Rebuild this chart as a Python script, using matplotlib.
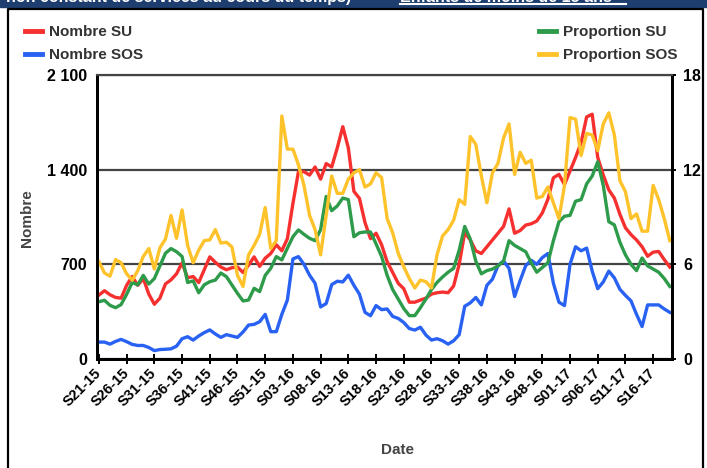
import numpy as np
import matplotlib.pyplot as plt
from matplotlib.lines import Line2D
from matplotlib.patches import Rectangle

plt.rcParams['font.family'] = ['Liberation Sans', 'DejaVu Sans']

# weeks S21-15 .. S19-17 (2015 has 53 weeks)
weeks = ([f"S{w:02d}-15" for w in range(21, 54)]
         + [f"S{w:02d}-16" for w in range(1, 53)]
         + [f"S{w:02d}-17" for w in range(1, 20)])

nombre_su = [473, 505, 475, 455, 450, 545, 610, 545, 595, 480,
             405, 450, 555, 585, 630, 710, 600, 610, 565, 660,
             755, 715, 680, 660, 675, 680, 640, 695, 755, 685,
             745, 780, 845, 800, 890, 1150, 1385, 1385, 1360, 1420,
             1330, 1445, 1420, 1560, 1718, 1560, 1240, 1188, 1010, 890,
             930, 845, 720, 640, 560, 520, 420, 420, 436, 450,
             480, 490, 495, 490, 540, 700, 935, 880, 800, 780,
             830, 880, 930, 980, 1110, 930, 950, 990, 1000, 1020,
             1080, 1180, 1340, 1365, 1290, 1390, 1490, 1600, 1790, 1810,
             1490, 1360, 1250, 1190, 1070, 970, 920, 880, 830, 760,
             790, 795, 735, 680]

nombre_sos = [125, 125, 110, 130, 145, 128, 108, 100, 100, 85,
              62, 70, 72, 75, 95, 150, 165, 140, 170, 195,
              215, 185, 160, 180, 170, 160, 200, 251, 256, 276,
              330, 202, 202, 330, 436, 740, 757, 700, 620, 560,
              385, 410, 550, 575, 570, 620, 545, 480, 345, 320,
              395, 365, 370, 315, 300, 270, 225, 214, 235, 177,
              140, 150, 135, 110, 135, 180, 390, 415, 455, 400,
              545, 590, 690, 725, 670, 462, 580, 690, 730, 700,
              750, 780, 560, 420, 395, 700, 830, 800, 820, 650,
              520, 570, 650, 600, 515, 470, 430, 330, 240, 400,
              400, 400, 370, 345]

prop_su = [3.63, 3.72, 3.4, 3.25, 3.45, 4.1, 4.85, 4.7, 5.3, 4.75,
           5.1, 5.9, 6.7, 7.0, 6.8, 6.5, 4.85, 4.95, 4.2, 4.7,
           4.9, 5.0, 5.45, 5.22, 4.69, 4.16, 3.68, 3.74, 4.48, 4.27,
           5.3, 5.75, 6.49, 6.28, 7.02, 7.75, 8.18, 7.9, 7.65, 7.5,
           8.2, 10.3, 9.4, 9.7, 10.2, 10.1, 7.75, 8.0, 8.05, 8.05,
           7.3, 6.5, 5.3, 4.4, 3.8, 3.2, 2.75, 2.75, 3.25, 3.8,
           4.4, 4.85, 5.2, 5.5, 5.75, 6.9, 8.4, 7.6, 6.2, 5.4,
           5.6, 5.7, 5.9, 6.2, 7.5, 7.2, 7.0, 6.8, 6.1, 5.5,
           5.8, 6.1, 7.5, 8.7, 9.05, 9.1, 10.0, 10.1, 11.1, 11.6,
           12.5, 11.0, 8.7, 8.5, 7.4, 6.6, 6.0, 5.6, 6.4, 5.9,
           5.7, 5.5, 5.1, 4.6]

prop_sos = [6.17, 5.45, 5.25, 6.3, 6.1, 5.4, 5.0, 5.6, 6.5, 7.0,
            5.7, 7.05, 7.6, 9.1, 7.65, 9.45, 7.2, 6.1, 6.9, 7.5,
            7.55, 8.2, 7.35, 7.4, 7.1, 5.3, 4.6, 6.6, 7.2, 7.9,
            9.6, 7.0, 7.5, 15.4, 13.3, 13.3, 12.3, 11.0, 9.1, 8.2,
            6.6, 9.1, 11.6, 10.5, 10.5, 11.4, 11.8, 12.0, 10.9, 11.1,
            11.8, 11.5, 8.9, 8.0, 6.7, 5.85, 5.1, 4.5, 5.0, 4.9,
            4.5, 6.6, 7.8, 8.2, 8.8, 10.1, 9.8, 14.1, 13.6, 11.6,
            9.9, 11.8, 12.4, 14.0, 14.9, 11.7, 13.1, 12.4, 12.6, 10.2,
            10.3, 10.9, 9.9, 8.9, 11.0, 15.3, 15.2, 12.9, 14.3, 14.2,
            13.2, 14.9, 15.6, 14.2, 11.3, 10.6, 8.9, 9.2, 8.1, 8.1,
            11.0, 10.1, 8.9, 7.5]

left_ticks = [0, 700, 1400, 2100]
left_labels = ['0', '700', '1 400', '2 100']
right_ticks = [0, 6, 12, 18]

RED, BLUE, GREEN, YELLOW = '#f5302e', '#2962f2', '#2e9b4b', '#fec32b'

W, H = 707, 468
fig = plt.figure(figsize=(W / 100, H / 100), dpi=100)

# header bar + panel frame
fig.patches.append(Rectangle((0, 1 - 7 / H), 1, 7 / H, transform=fig.transFigure,
                             color='#1d3e6f', zorder=0))
fig.add_artist(Line2D([8 / W, 8 / W, 703 / W, 703 / W], [0, 1 - 9 / H, 1 - 9 / H, 0],
                      transform=fig.transFigure, color='black', lw=1.6))
fig.text(6 / W, 1 - 2.3 / H, "non constant de services au cours du temps)", color='white',
         fontsize=11.5, fontweight='bold', va='baseline')
fig.text(400 / W, 1 - 2.3 / H, "Enfants de moins de 15 ans", color='white',
         fontsize=11.5, fontweight='bold', va='baseline')
fig.add_artist(Line2D([400 / W, 626 / W], [1 - 3.5 / H, 1 - 3.5 / H],
                      transform=fig.transFigure, color='white', lw=1.5))

ax = fig.add_axes([97 / W, (H - 359) / H, (672 - 97) / W, (359 - 75) / H])
ax2 = ax.twinx()

x = np.arange(len(weeks))
ax.plot(x, nombre_su, color=RED, lw=2.4, zorder=3)
ax.plot(x, nombre_sos, color=BLUE, lw=2.4, zorder=3)
ax2.plot(x, prop_su, color=GREEN, lw=2.4)
ax2.plot(x, prop_sos, color=YELLOW, lw=2.4)

ax.set_xlim(-0.35, 103.4)
ax.set_ylim(0, 2100)
ax2.set_ylim(0, 18)

ax.set_yticks(left_ticks, left_labels)
ax2.set_yticks(right_ticks, [str(t) for t in right_ticks])
ax.set_xticks(x[::5], [weeks[i] for i in x[::5]])

ax.yaxis.grid(True, color='#444444', lw=1.6)
ax.set_axisbelow(True)

for a in (ax, ax2):
    for s in ('left', 'bottom', 'right'):
        a.spines[s].set_color('black')
        a.spines[s].set_linewidth(2)
    a.spines['top'].set_color('#444444')
    a.spines['top'].set_linewidth(1.5)

ax.tick_params(axis='x', direction='inout', length=7, width=1.4, pad=5)
ax.tick_params(axis='y', length=0, pad=7)
ax2.tick_params(axis='y', direction='out', length=3, width=1.4, pad=5)

for lab in ax.get_xticklabels():
    lab.set_rotation(45)
    lab.set_ha('right')
    lab.set_va('center')
    lab.set_rotation_mode('anchor')
    lab.set_fontsize(10.5)
    lab.set_fontweight('bold')
for lab in ax.get_yticklabels() + ax2.get_yticklabels():
    lab.set_fontsize(11.5)
    lab.set_fontweight('bold')

fig.text(27 / W, 1 - 218 / H, 'Nombre', rotation=90, ha='center', va='center',
         color='#444444', fontsize=11, fontweight='bold')
fig.text(398 / W, 1 - 450 / H, 'Date', ha='center', va='center',
         color='#444444', fontsize=11, fontweight='bold')

leg_kw = dict(loc='upper left', frameon=False, handlelength=1.1,
              handletextpad=0.45, labelspacing=0.6, borderpad=0, borderaxespad=0,
              prop={'weight': 'bold', 'size': 11})
h_left = [Line2D([], [], color=RED, lw=3.5), Line2D([], [], color=BLUE, lw=3.5)]
h_right = [Line2D([], [], color=GREEN, lw=3.5), Line2D([], [], color=YELLOW, lw=3.5)]
l1 = fig.legend(h_left, ['Nombre SU', 'Nombre SOS'], bbox_to_anchor=(25 / W, 1 - 25 / H), **leg_kw)
l2 = fig.legend(h_right, ['Proportion SU', 'Proportion SOS'], bbox_to_anchor=(539 / W, 1 - 25 / H), **leg_kw)
for lg in (l1, l2):
    for t in lg.get_texts():
        t.set_color('#333333')

fig.savefig('out.png', dpi=100)
